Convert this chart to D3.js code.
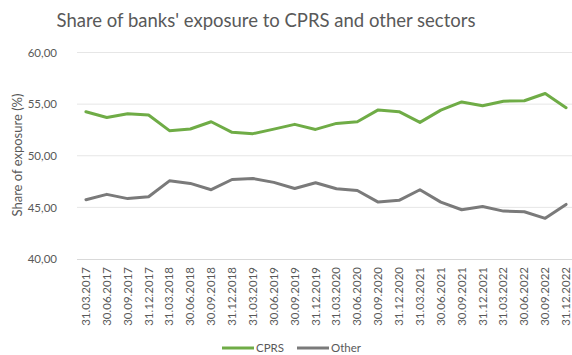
<!DOCTYPE html>
<html>
<head>
<meta charset="utf-8">
<script src="https://cdn.jsdelivr.net/npm/d3@7/dist/d3.min.js"></script>
<style>
  html, body { margin: 0; padding: 0; background: #fff; }
  svg { display: block; font-family: Lato, "Open Sans", sans-serif; }
</style>
</head>
<body>
<svg id="chart" width="572" height="355"></svg>
<script>
// Quarter-end reporting dates
const quarters = [
  "31.03.2017","30.06.2017","30.09.2017","31.12.2017",
  "31.03.2018","30.06.2018","30.09.2018","31.12.2018",
  "31.03.2019","30.06.2019","30.09.2019","31.12.2019",
  "31.03.2020","30.06.2020","30.09.2020","31.12.2020",
  "31.03.2021","30.06.2021","30.09.2021","31.12.2021",
  "31.03.2022","30.06.2022","30.09.2022","31.12.2022"
];

// Share of exposure (%) to climate policy relevant sectors
const cprs = [54.26, 53.71, 54.07, 53.95, 52.43, 52.59, 53.29, 52.27,
              52.14, 52.58, 53.04, 52.55, 53.13, 53.29, 54.44, 54.27,
              53.23, 54.42, 55.21, 54.84, 55.28, 55.33, 56.03, 54.65];

// Share of exposure (%) to all other sectors
const other = [45.74, 46.26, 45.85, 46.03, 47.57, 47.32, 46.71, 47.70,
               47.80, 47.42, 46.83, 47.38, 46.80, 46.63, 45.51, 45.68,
               46.71, 45.51, 44.77, 45.08, 44.64, 44.58, 43.94, 45.29];

const yTicks = [40, 45, 50, 55, 60];

const series = [
  { name: "CPRS",  values: cprs,  color: "#6FAC46" },
  { name: "Other", values: other, color: "#7A7A7A" }
];

const svg = d3.select("#chart");
const textColor = "#595959";
const fmt = v => d3.format(".2f")(v).replace(".", ",");

const x = d3.scaleBand().domain(quarters).range([75.5, 576.5]).padding(0);
const y = d3.scaleLinear().domain([40, 60]).range([259, 52.5]);

// Title
svg.append("text")
  .attr("x", 266).attr("y", 27)
  .attr("text-anchor", "middle")
  .attr("font-size", 18.5)
  .attr("fill", textColor)
  .text("Share of banks' exposure to CPRS and other sectors");

// Horizontal gridlines
svg.append("g")
  .selectAll("line")
  .data(yTicks.filter(t => t !== 40))
  .join("line")
  .attr("x1", 77).attr("x2", 572)
  .attr("y1", d => y(d)).attr("y2", d => y(d))
  .attr("stroke", "#E6E6E6").attr("stroke-width", 1);

// Y axis labels
const yAxis = d3.axisLeft(y).tickValues(yTicks).tickFormat(fmt).tickSize(0).tickPadding(0);
const gy = svg.append("g").attr("transform", "translate(57,0)").call(yAxis);
gy.select(".domain").remove();
gy.selectAll("text")
  .attr("font-family", "Lato, 'Open Sans', sans-serif")
  .attr("font-size", 11.5)
  .attr("fill", textColor);

// Y axis title
svg.append("text")
  .attr("transform", "translate(22,155) rotate(-90)")
  .attr("text-anchor", "middle")
  .attr("font-size", 13)
  .attr("fill", textColor)
  .text("Share of exposure (%)");

// X axis
const xAxis = d3.axisBottom(x).tickSize(0).tickPadding(0);
const gx = svg.append("g").attr("transform", "translate(0,259)").call(xAxis);
gx.select(".domain")
  .attr("d", "M77,0.5H572")
  .attr("stroke", "#D9D9D9");
gx.selectAll(".tick text")
  .attr("font-family", "Lato, 'Open Sans', sans-serif")
  .attr("font-size", 11.5)
  .attr("fill", textColor)
  .attr("text-anchor", "end")
  .attr("dy", null)
  .attr("transform", "translate(4,8) rotate(-90)");

// Lines
const line = d3.line()
  .x((d, i) => x(quarters[i]) + x.bandwidth() / 2)
  .y(d => y(d));

svg.append("g")
  .selectAll("path")
  .data(series)
  .join("path")
  .attr("d", d => line(d.values))
  .attr("fill", "none")
  .attr("stroke", d => d.color)
  .attr("stroke-width", 3)
  .attr("stroke-linejoin", "round")
  .attr("stroke-linecap", "round");

// Legend along the bottom edge
const legendPos = [222, 297];
const lg = svg.append("g")
  .selectAll("g")
  .data(series)
  .join("g")
  .attr("transform", (d, i) => `translate(${legendPos[i]},348)`);
lg.append("line")
  .attr("x1", 0).attr("x2", 32)
  .attr("stroke", d => d.color).attr("stroke-width", 3);
lg.append("text")
  .attr("x", 34).attr("y", 4)
  .attr("font-size", 11.5)
  .attr("fill", textColor)
  .text(d => d.name);
</script>
</body>
</html>
